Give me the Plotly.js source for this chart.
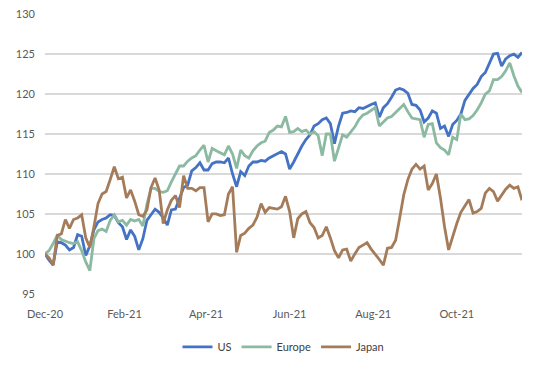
<!DOCTYPE html>
<html>
<head>
<meta charset="utf-8">
<script src="https://cdn.plot.ly/plotly-3.0.1.min.js"></script>
<style>html,body{margin:0;padding:0;background:#fff;}#chart{width:556px;height:369px;}</style>
</head>
<body>
<div id="chart"></div>
<script>
const dates = [
'2020-12-31',
'2021-01-04','2021-01-06','2021-01-08','2021-01-12','2021-01-14',
'2021-01-18','2021-01-20','2021-01-22','2021-01-26','2021-01-28',
'2021-02-01','2021-02-03','2021-02-05','2021-02-09','2021-02-11',
'2021-02-15','2021-02-17','2021-02-19','2021-02-23','2021-02-25',
'2021-03-01','2021-03-03','2021-03-05','2021-03-09','2021-03-11',
'2021-03-15','2021-03-17','2021-03-19','2021-03-23','2021-03-25',
'2021-03-29','2021-03-31','2021-04-02','2021-04-06','2021-04-08',
'2021-04-12','2021-04-14','2021-04-16','2021-04-20','2021-04-22',
'2021-04-26','2021-04-28','2021-04-30','2021-05-04','2021-05-06',
'2021-05-10','2021-05-12','2021-05-14','2021-05-18','2021-05-20',
'2021-05-24','2021-05-26','2021-05-28','2021-06-01','2021-06-03',
'2021-06-07','2021-06-09','2021-06-11','2021-06-15','2021-06-17',
'2021-06-21','2021-06-23','2021-06-25','2021-06-29','2021-07-01',
'2021-07-05','2021-07-07','2021-07-09','2021-07-13','2021-07-15',
'2021-07-19','2021-07-21','2021-07-23','2021-07-27','2021-07-29',
'2021-08-02','2021-08-04','2021-08-06','2021-08-10','2021-08-12',
'2021-08-16','2021-08-18','2021-08-20','2021-08-24','2021-08-26',
'2021-08-30','2021-09-01','2021-09-03','2021-09-07','2021-09-09',
'2021-09-13','2021-09-15','2021-09-17','2021-09-21','2021-09-23',
'2021-09-27','2021-09-29','2021-10-01','2021-10-05','2021-10-07',
'2021-10-11','2021-10-13','2021-10-15','2021-10-19','2021-10-21',
'2021-10-25','2021-10-27','2021-10-29','2021-11-02','2021-11-04',
'2021-11-08','2021-11-10','2021-11-12','2021-11-16','2021-11-18',
'2021-11-22','2021-11-24'
];

const us = [100,
 99.2, 98.6, 101.5, 101.4, 101.1,
 100.5, 100.8, 102.4, 102.2, 99.8,
 101.0, 103.0, 104.0, 104.3, 104.5,
 104.9, 104.8, 103.9, 103.4, 101.8,
 103.0, 102.2, 100.5, 101.9, 104.2,
 104.9, 105.6, 105.2, 104.5, 103.6,
 105.5, 105.6, 107.0, 108.3, 108.6,
 110.4, 110.8, 111.4, 110.5, 110.5,
 111.3, 111.5, 111.5, 111.4, 112.0,
 110.0, 108.4, 110.3, 109.8, 111.0,
 111.5, 111.5, 111.7, 111.6, 112.0,
 112.3, 112.5, 112.8, 112.5, 110.6,
 111.5, 112.6, 113.5, 114.3, 114.9,
 116.0, 116.3, 116.8, 117.0, 116.3,
 113.8, 116.0, 117.6, 117.7, 117.9,
 117.8, 118.3, 118.2, 118.5, 118.7,
 118.9, 117.1, 118.3, 118.8, 119.6,
 120.5, 120.7, 120.5, 120.1, 118.7,
 118.6, 118.0, 116.5, 117.0, 117.9,
 117.6, 115.7, 116.0, 114.7, 116.2,
 116.7, 117.5, 119.2, 120.0, 120.7,
 121.2, 122.2, 122.7, 123.8, 125.0,
 125.1, 123.5, 124.4, 124.8, 125.0,
 124.6, 125.2];

const europe = [100,
 100.4, 101.3, 102.3, 101.8, 101.6,
 101.4, 101.3, 101.5, 100.4, 99.0,
 97.9, 101.9, 102.9, 103.1, 102.8,
 104.2, 104.9, 104.0, 104.2, 103.6,
 104.3, 104.1, 104.3, 103.5, 106.2,
 108.2, 108.2, 107.8, 107.7, 107.9,
 109.0, 110.0, 111.0, 111.0, 111.6,
 112.0, 112.3, 113.0, 113.6, 111.5,
 113.2, 112.9, 112.6, 112.4, 113.5,
 112.5, 110.7, 113.0, 112.3, 112.0,
 112.9, 113.5, 113.9, 114.1, 115.2,
 115.5, 116.0, 115.9, 117.2, 115.2,
 115.3, 115.7, 115.3, 115.5, 115.0,
 115.3, 114.8, 112.3, 115.0, 115.0,
 111.6, 113.2, 114.9, 114.6, 115.3,
 115.9, 116.8, 117.4, 117.6, 117.9,
 118.3, 116.0, 116.5, 117.0, 117.2,
 117.7, 118.2, 118.7, 117.8, 117.0,
 116.9, 116.8, 114.6, 116.2, 116.3,
 113.9, 113.3, 113.0, 112.4, 114.6,
 114.3, 117.5, 116.8, 116.9, 117.3,
 118.0, 118.9, 120.0, 120.4, 121.8,
 121.8, 122.2, 122.9, 123.9, 122.3,
 121.0, 120.2];

const japan = [100,
 99.5, 98.6, 102.3, 102.5, 104.3,
 103.2, 104.3, 104.5, 104.9, 102.0,
 100.8, 103.4, 106.3, 107.5, 107.8,
 109.3, 110.9, 109.4, 109.6, 107.0,
 108.0, 106.6, 104.9, 104.7, 105.5,
 108.3, 109.5, 108.0, 103.8, 105.5,
 106.7, 107.3, 105.8, 109.8, 108.2,
 108.2, 107.9, 108.3, 108.3, 104.0,
 105.0, 105.0, 104.8, 104.9, 107.5,
 108.4, 100.2, 102.3, 102.6, 103.2,
 103.6, 104.6, 106.3, 105.2, 105.8,
 105.7, 105.6, 105.9, 107.2, 105.3,
 102.0, 104.4, 105.0, 105.3, 103.9,
 103.3, 102.0, 102.3, 103.4, 102.0,
 100.4, 99.5, 100.5, 100.6, 99.1,
 100.0, 100.8, 101.1, 101.4, 100.6,
 100.0, 99.3, 98.6, 100.7, 100.8,
 101.7, 104.5, 107.4, 109.3, 110.6,
 111.2, 110.6, 111.0, 108.0, 108.8,
 110.0, 107.0, 103.4, 100.5, 102.3,
 103.8, 105.2, 106.0, 106.8, 105.1,
 105.3, 105.7, 107.6, 108.2, 107.8,
 106.6, 107.4, 108.1, 108.6, 108.2,
 108.4, 106.7];

const seriesNames = ['US', 'Europe', 'Japan'];
const xTickDates = ['2020-12-31','2021-02-24','2021-04-21','2021-06-17','2021-08-13','2021-10-11'];
const yTicks = [95, 100, 105, 110, 115, 120, 125, 130];

const colors = ['#4472C4', '#8BB9A1', '#A57C5A'];
const values = [us, europe, japan];
const FONT = 'Lato, "Open Sans", "Liberation Sans", sans-serif';

const traces = values.map((v, i) => ({
  x: dates, y: v, name: seriesNames[i], type: 'scatter', mode: 'lines',
  line: {color: colors[i], width: 2.8},
  hoverinfo: 'skip'
}));

const layout = {
  width: 556, height: 369,
  margin: {l: 45, r: 34, t: 14, b: 75, autoexpand: false},
  paper_bgcolor: '#ffffff', plot_bgcolor: '#ffffff',
  font: {family: FONT, size: 11, color: '#595959'},
  showlegend: true,
  legend: {orientation: 'h', x: 0.5, xanchor: 'center',
           yref: 'container', y: 0.06, yanchor: 'middle',
           font: {family: FONT, size: 11, color: '#404040'}, traceorder: 'normal'},
  xaxis: {
    type: 'date', range: ['2020-12-31', '2021-11-24'],
    rangebreaks: [{bounds: ['sat', 'mon']}],
    tickmode: 'array', tickvals: xTickDates, tickformat: '%b-%y',
    showgrid: false, zeroline: false, showline: false, ticks: '',
    ticklabelstandoff: 12,
    tickfont: {family: FONT, size: 11, color: '#595959'}
  },
  yaxis: {
    range: [94.98, 130.02], tickmode: 'array', tickvals: yTicks,
    showgrid: true, gridcolor: '#d9d9d9', gridwidth: 1.3,
    zeroline: false, showline: false, ticks: '',
    ticklabelstandoff: 9,
    tickfont: {family: FONT, size: 11, color: '#595959'}
  }
};

Plotly.newPlot('chart', traces, layout, {staticPlot: true, displayModeBar: false});
</script>
</body>
</html>
